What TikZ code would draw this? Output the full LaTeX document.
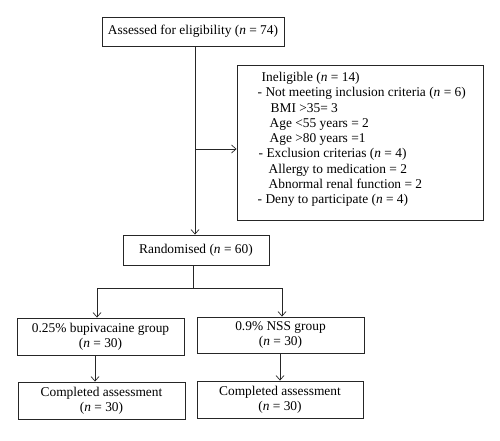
\documentclass[tikz,border=0pt]{standalone}
\usepackage{fontspec}
\setmainfont{Liberation Serif}
\usetikzlibrary{arrows.meta}
\begin{document}
\begin{tikzpicture}[x=1pt,y=-1pt,
  txt/.style={inner sep=0pt,align=center,font=\fontsize{13.4}{15.3}\selectfont},
  box/.style={txt,draw=black!85,line width=0.9pt},
  conn/.style={draw=black!85,line width=0.7pt},
  arr/.style={conn,-{Straight Barb[length=4.5pt,width=8pt]}}]
\useasboundingbox (0,0) rectangle (500,441);
\node[box,minimum width=182,minimum height=29] (top) at (193,31.5) {Assessed for eligibility (\textit{n} = 74)};
\node[box,minimum width=246,minimum height=155] (inel) at (360,142.5) {};
\node[txt,align=left,anchor=north west] (ineltext) at (257.5,72)
 {\hspace*{4pt}Ineligible (\textit{n} = 14)\\
  - Not meeting inclusion criteria (\textit{n} = 6)\\
  \hspace*{13pt}BMI {>}35= 3\\
  \hspace*{12pt}Age {<}55 years = 2\\
  \hspace*{12pt}Age {>}80 years =1\\
  \hspace*{1pt}- Exclusion criterias (\textit{n} = 4)\\
  \hspace*{11pt}Allergy to medication = 2\\
  \hspace*{11pt}Abnormal renal function = 2\\
  - Deny to participate (\textit{n} = 4)};
\node[box,minimum width=146,minimum height=30] (rand) at (196,250) {Randomised (\textit{n} = 60)};
\node[box,minimum width=167,minimum height=37] (g1) at (100.5,336.5) {0.25\% bupivacaine group\\(\textit{n} = 30)};
\node[box,minimum width=167,minimum height=36] (g2) at (280.5,335) {0.9\% NSS group\\(\textit{n} = 30)};
\node[box,minimum width=167,minimum height=37] (c1) at (101.5,400.5) {Completed assessment\\(\textit{n} = 30)};
\node[box,minimum width=166,minimum height=37] (c2) at (280,399.5) {Completed assessment\\(\textit{n} = 30)};
\coordinate (j) at (195,149);
\coordinate (sl) at (97,288);
\coordinate (sr) at (282,288);
\draw[arr] (top.south -| j) -- (j |- rand.north);
\draw[arr] (j) -- (j -| inel.west);
\draw[conn] (rand.south -| 193,0) -- (193,288);
\draw[conn] (sl) -- (sr);
\draw[arr] (sl) -- (sl |- g1.north);
\draw[arr] (sr) -- (sr |- g2.north);
\draw[arr] (g1.south -| 95,0) -- (95,0 |- c1.north);
\draw[arr] (g2.south -| 280,0) -- (280,0 |- c2.north);
\end{tikzpicture}
\end{document}
